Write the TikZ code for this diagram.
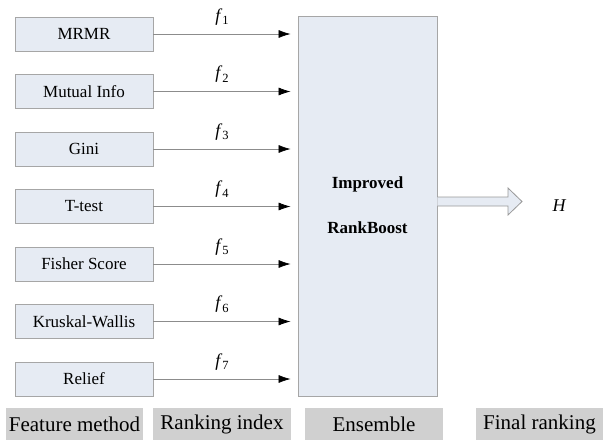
\documentclass[tikz,border=0pt]{standalone}
\usepackage{fontspec}
\setmainfont{LiberationSerif}[Extension=.ttf, UprightFont=*-Regular,
  BoldFont=*-Bold, ItalicFont=*-Italic, BoldItalicFont=*-BoldItalic]
\usetikzlibrary{arrows.meta}
\newcommand{\rankidx}[1]{\textit{f}\kern-0.3pt\raisebox{-3.5pt}{\fontsize{12.5}{12}\selectfont #1}}
\begin{document}
\begin{tikzpicture}[x=1pt,y=-1pt,
  method/.style={draw=black!35, fill=boxfill, line width=0.8pt,
    minimum width=138pt, minimum height=34pt, inner sep=0pt,
    font=\fontsize{17}{19}\selectfont},
  feed/.style={draw=black!45, line width=0.7pt, shorten >=7pt,
    -{Latex[length=12pt,width=8pt,black]}},
  idx/.style={font=\fontsize{18}{19}\selectfont},
  tag/.style={fill=tagfill, inner sep=0pt, minimum height=32pt,
    font=\fontsize{21}{23}\selectfont},
  ]
\definecolor{boxfill}{HTML}{E6EBF3}
\definecolor{tagfill}{HTML}{D0D0D0}
\useasboundingbox (0,0) rectangle (607,440);

% ensemble block
\node[draw=black!35, fill=boxfill, line width=0.8pt, inner sep=0pt,
  minimum width=139pt, minimum height=380pt] (ens) at (367.5,206) {};
\node[font=\bfseries\fontsize{17}{19}\selectfont] (imp) at (367.5,184) {Improved};
\node[font=\bfseries\fontsize{17}{19}\selectfont] (rb) at (367.5,228) {RankBoost};

% feature methods and their ranking indices
\foreach \i/\name [evaluate=\i as \yy using 34+57.5*(\i-1)] in
  {1/MRMR, 2/Mutual Info, 3/Gini, 4/T-test, 5/Fisher Score, 6/Kruskal-Wallis, 7/Relief} {
  \node[method] (m\i) at (84,\yy) {\name};
  \draw[feed] (m\i.east) -- (m\i.east -| ens.west);
  \node[idx] (f\i) at (222,\yy-17) {\rankidx{\i}};
}

% final output arrow
\coordinate (oa) at (ens.east |- 0,197);
\coordinate (ob) at (ens.east |- 0,206);
\draw[draw=black!40, fill=boxfill, line width=0.8pt]
  (oa) -- (508,197) -- (508,188) -- (522,201.5) -- (508,215) -- (508,206) -- (ob);
\node[font=\itshape\fontsize{18}{19}\selectfont] (H) at (559,206) {H};

% stage labels
\node[tag, minimum width=137pt] (t1) at (74.5,424) {Feature method};
\node[tag, minimum width=138pt] (t2) at (222,424) {Ranking index};
\node[tag, minimum width=138pt] (t3) at (374,424) {Ensemble};
\node[tag, minimum width=127pt] (t4) at (539.5,424) {Final ranking};
\end{tikzpicture}
\end{document}
